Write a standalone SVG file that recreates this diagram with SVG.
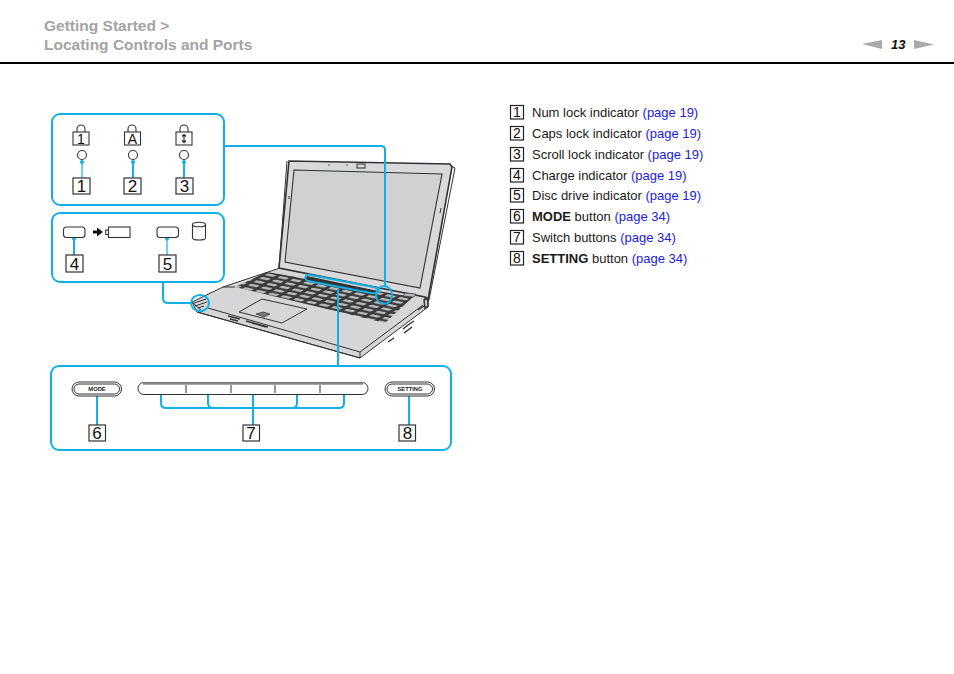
<svg xmlns="http://www.w3.org/2000/svg" width="954" height="674" viewBox="0 0 954 674">
<style>
text{font-family:"Liberation Sans",Arial,sans-serif}
.hd{font-size:15.5px;font-weight:bold;fill:#a3a3a3}
.li{font-size:13px;fill:#1a1a1a}
.b{font-weight:bold}
.lk{fill:#1a1ae0}
.num{font-size:14px;fill:#111;text-anchor:middle}
.big{font-size:17px;fill:#111;text-anchor:middle}
.box{fill:#fff;stroke:#333;stroke-width:1.2}
.lb{fill:#fff;stroke:#222;stroke-width:1.2}
.panel{fill:none;stroke:#12b0e6;stroke-width:2}
.c{fill:none;stroke:#12b0e6;stroke-width:2}
.t{stroke-width:1.2}
.dot{fill:#12b0e6}
.ic{fill:#fff;stroke:#333;stroke-width:1.1}
.l{fill:none;stroke:#333;stroke-width:1}
.btn{font-size:5.8px;font-weight:bold;fill:#222;text-anchor:middle}
</style>
<defs>
<pattern id="keys" width="10" height="10" patternUnits="userSpaceOnUse" patternTransform="matrix(1.27,0.27,-0.56,0.345,267,272)">
<rect width="10" height="10" fill="#3a3a3a"/>
<rect x="1.6" y="2.4" width="7" height="5.4" rx="1" fill="#b9b9bb"/>
</pattern>
</defs>
<rect width="954" height="674" fill="#fff"/>

<g id="header">
<text class="hd" x="44" y="31">Getting Started &gt;</text>
<text class="hd" x="44" y="50">Locating Controls and Ports</text>
<rect x="0" y="62" width="954" height="2" fill="#000"/>
<polygon points="862,44 882,40 882,49" fill="#a9a9a9"/>
<text x="891" y="49" font-size="13" font-weight="bold" font-style="italic" fill="#111">13</text>
<polygon points="914,40 934,44.500 914,49" fill="#a9a9a9"/>
</g>

<g id="laptop">
<polygon points="192,302 223,287 280,268 427,297 428,307 360,358 197,312" fill="#d6d6d8" stroke="#333" stroke-width="1"/>
<polygon points="289,161 450,164 452,167 428,300 425,297 279,268" fill="#d9d9db" stroke="#333" stroke-width="1.6"/>
<polygon points="294,170 442,174 420,288 285,262" fill="#d0d1d3" stroke="#333" stroke-width="1.1"/>
<rect x="357" y="164" width="8" height="4" class="l"/>
<circle cx="329" cy="165" r="0.7" fill="#333"/>
<circle cx="347" cy="165" r="0.7" fill="#333"/>
<path class="l" d="M287,161 279,268M289,196v3M441,208l-1,5M451,166l4,2-26,132"/>
<polygon points="267,272 413,297 385,323 235,287" fill="url(#keys)"/>
<polygon points="307,276 378,291 376,295 304,280" fill="#333"/>
<polygon points="405,293 416,294 414,297 403,296" fill="#bbb" stroke="#333" stroke-width=".7"/>
<polygon points="239,312 262,299 307,309 282,323" fill="#d6d6d8" stroke="#333" stroke-width="1"/>
<polygon points="256,314 263,312 270,314 264,317" fill="#777" stroke="#333" stroke-width=".7"/>
<path class="l" d="M208,308 360,352 423,305M197,312 360,358M360,352v6M192,302 203,312M223,287 235,287"/>
<path stroke="#333" stroke-width="1.500" fill="none" d="M228,316 240,319M246,321 268,327M230,319l8,2M252,323l14,4M388,342l6-4M403,329l5-4 6-4M404,333l8-6M418,310l6-4M424,300l4-2v8l-3,2z"/>
<path stroke="#333" stroke-width="1" fill="none" d="M194,303 206,299M195,306 207,302M198,308l6-2"/>
<path class="l" d="M427,297 424,299"/>
</g>

<g id="connectors">
<path class="c" d="M224,146H381Q385,146 385,150V286"/>
<ellipse class="c" cx="384" cy="295" rx="8" ry="9"/>
<path class="c" d="M310,275 373,287Q381,289 379,291 378,294 371,293L308,281Q304,279 306,276 307,274 310,275Z"/>
<path class="c" d="M338,289V366"/>
<path class="c" d="M163,282V298Q163,303 168,303H191"/>
<ellipse class="c" cx="200" cy="303" rx="9" ry="8"/>
<path class="c t" d="M82,162V178"/>
<path class="c" d="M133,162V178M184,162V178M74,239V255"/>
<path class="c t" d="M167,239V255"/>
<path class="c" d="M97,395V425M409,395V425M253,392V425M161,392V403Q161,408 166,408H339Q344,408 344,403V392M208,392V403Q208,408 213,408M297,392V403Q297,408 292,408"/>
<circle class="dot" cx="82" cy="162" r="2"/><circle class="dot" cx="133" cy="162" r="2"/><circle class="dot" cx="184" cy="162" r="2"/>
<circle class="dot" cx="74" cy="238.500" r="2"/><circle class="dot" cx="167" cy="238.500" r="2"/>
<circle class="dot" cx="97" cy="395" r="2"/><circle class="dot" cx="409" cy="395" r="2"/>
<circle class="dot" cx="161" cy="392" r="2"/><circle class="dot" cx="208" cy="392" r="2"/><circle class="dot" cx="253" cy="392" r="2"/><circle class="dot" cx="297" cy="392" r="2"/><circle class="dot" cx="344" cy="392" r="2"/>
</g>

<g id="panel-locks">
<rect class="panel" x="52" y="114" width="172" height="91" rx="8"/>
<g class="ic">
<path d="M77,132V129a4,4 0 0 1 8,0V132M128,132V129a4,4 0 0 1 8,0V132M180,132V129a4,4 0 0 1 8,0V132" fill="none"/>
<rect x="73" y="132" width="16" height="13"/><rect x="124.500" y="132" width="16" height="13"/><rect x="176" y="132" width="16" height="13"/>
<circle cx="82" cy="155" r="4.500"/><circle cx="133" cy="155" r="4.500"/><circle cx="184" cy="155" r="4.500"/>
</g>
<text class="num" x="81" y="144">1</text>
<text class="num" x="132.500" y="144">A</text>
<path d="M184,134.500V142.500M182,136.500l2,-2 2,2M182,140.500l2,2 2,-2" fill="none" stroke="#222" stroke-width="1.100"/>
</g>
<g id="n1"><rect class="box" x="73" y="178" width="17" height="16"/><text class="big" x="81.500" y="192">1</text></g>
<g id="n2"><rect class="box" x="124" y="178" width="17" height="16"/><text class="big" x="132.500" y="192">2</text></g>
<g id="n3"><rect class="box" x="176" y="178" width="17" height="16"/><text class="big" x="184.500" y="192">3</text></g>

<g id="panel-indicators">
<rect class="panel" x="52" y="213" width="172" height="69" rx="8"/>
<rect class="ic" x="63.500" y="227" width="21.500" height="10.500" rx="3"/>
<rect class="ic" x="157" y="227" width="21.500" height="10.500" rx="3"/>
<path d="M93,230.500h4v-3l6,4.500-6,4.500v-3h-4z" fill="#111"/>
<rect class="ic" x="108.500" y="227" width="21.500" height="10.500"/>
<rect class="ic" x="105.700" y="230" width="2.800" height="4.500"/>
<path class="ic" d="M192.500,224.500V238Q192.500,240 199,240 205.500,240 205.500,238V224.500"/>
<ellipse class="ic" cx="199" cy="224.500" rx="6.500" ry="2.300"/>
</g>
<g id="n4"><rect class="box" x="66" y="255" width="17" height="17"/><text class="big" x="74.500" y="269.500">4</text></g>
<g id="n5"><rect class="box" x="159" y="255" width="17" height="17"/><text class="big" x="167.500" y="269.500">5</text></g>

<g id="panel-buttons">
<rect class="panel" x="51" y="366" width="400" height="84" rx="8"/>
<g fill="#fff" stroke="#333" stroke-width="1">
<rect x="72" y="382" width="49.500" height="14" rx="7"/><rect x="74" y="384" width="45.500" height="10" rx="5"/>
<rect x="385" y="382" width="49.500" height="14" rx="7"/><rect x="387" y="384" width="45.500" height="10" rx="5"/>
<rect x="138" y="382.500" width="230" height="12" rx="6"/>
</g>
<path d="M143,383.500H363" stroke="#8a8a8a" stroke-width="2.500" fill="none"/>
<path d="M186,385V393M231,385V393M275,385V393M320,385V393" stroke="#333" stroke-width="1" fill="none"/>
<text class="btn" x="97" y="391">MODE</text>
<text class="btn" x="410" y="391">SETTING</text>
</g>
<g id="n6"><rect class="box" x="89" y="425" width="16.500" height="16"/><text class="big" x="97" y="439">6</text></g>
<g id="n7"><rect class="box" x="243" y="425" width="16.500" height="16"/><text class="big" x="251" y="439">7</text></g>
<g id="n8"><rect class="box" x="399" y="425" width="16.500" height="16"/><text class="big" x="407.500" y="439">8</text></g>

<g id="legend">
<g class="lb-group">
<rect class="lb" x="510.500" y="105.500" width="13" height="13.500"/><text class="num" x="517" y="117">1</text>
<rect class="lb" x="510.500" y="126.500" width="13" height="13.500"/><text class="num" x="517" y="138">2</text>
<rect class="lb" x="510.500" y="147.500" width="13" height="13.500"/><text class="num" x="517" y="159">3</text>
<rect class="lb" x="510.500" y="168.500" width="13" height="13.500"/><text class="num" x="517" y="180">4</text>
<rect class="lb" x="510.500" y="188.500" width="13" height="13.500"/><text class="num" x="517" y="200">5</text>
<rect class="lb" x="510.500" y="209.500" width="13" height="13.500"/><text class="num" x="517" y="221">6</text>
<rect class="lb" x="510.500" y="230.500" width="13" height="13.500"/><text class="num" x="517" y="242">7</text>
<rect class="lb" x="510.500" y="251.500" width="13" height="13.500"/><text class="num" x="517" y="263">8</text>
</g>
<text class="li" x="532" y="117">Num lock indicator <tspan class="lk">(page 19)</tspan></text>
<text class="li" x="532" y="138">Caps lock indicator <tspan class="lk">(page 19)</tspan></text>
<text class="li" x="532" y="159">Scroll lock indicator <tspan class="lk">(page 19)</tspan></text>
<text class="li" x="532" y="180">Charge indicator <tspan class="lk">(page 19)</tspan></text>
<text class="li" x="532" y="200">Disc drive indicator <tspan class="lk">(page 19)</tspan></text>
<text class="li" x="532" y="221"><tspan class="b">MODE</tspan> button <tspan class="lk">(page 34)</tspan></text>
<text class="li" x="532" y="242">Switch buttons <tspan class="lk">(page 34)</tspan></text>
<text class="li" x="532" y="263"><tspan class="b">SETTING</tspan> button <tspan class="lk">(page 34)</tspan></text>
</g>
</svg>
